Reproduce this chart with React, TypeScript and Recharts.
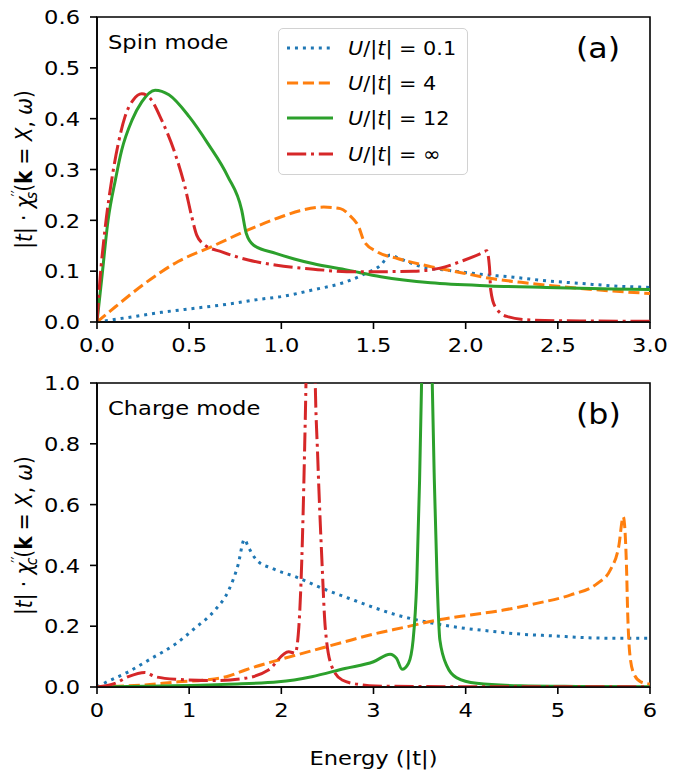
import { LineChart, Line, XAxis, YAxis, Legend, ReferenceArea } from 'recharts';

const FONT = '"DejaVu Sans", "Noto Sans", sans-serif';
// text in this figure is set a little wide
const SX = 1.13;

// [energy (|t|), |t|·χ''] samples, spin channel
const spinU01 = [
  [0, 0], [0.17, 0.009], [0.35, 0.019], [0.53, 0.027], [0.71, 0.035], [0.89, 0.045],
  [1.0, 0.05], [1.17, 0.063], [1.35, 0.079], [1.46, 0.096], [1.54, 0.112], [1.59, 0.132],
  [1.64, 0.125], [1.77, 0.108], [1.9, 0.102], [2.08, 0.094], [2.26, 0.088], [2.44, 0.081],
  [2.62, 0.076], [2.8, 0.071], [3.0, 0.068],
];
const spinU4 = [
  [0, 0], [0.1, 0.03], [0.26, 0.076], [0.44, 0.119], [0.62, 0.148], [0.8, 0.178],
  [1.0, 0.207], [1.1, 0.219], [1.23, 0.226], [1.32, 0.223], [1.37, 0.21], [1.42, 0.187],
  [1.45, 0.158], [1.52, 0.138], [1.63, 0.125], [1.81, 0.109], [1.99, 0.096], [2.13, 0.086],
  [2.35, 0.076], [2.62, 0.066], [3.0, 0.056],
];
const spinU12 = [
  [0, 0], [0.025, 0.083], [0.06, 0.2], [0.1, 0.28], [0.134, 0.338], [0.19, 0.397],
  [0.243, 0.433], [0.315, 0.456], [0.39, 0.447], [0.5, 0.404], [0.6, 0.352], [0.71, 0.286],
  [0.785, 0.22], [0.81, 0.174], [0.85, 0.151], [0.97, 0.135], [1.07, 0.124], [1.17, 0.115],
  [1.36, 0.102], [1.54, 0.089], [1.81, 0.077], [2.13, 0.071], [2.44, 0.068], [2.8, 0.065],
  [3.0, 0.064],
];
const spinUInf = [
  [0, 0], [0.016, 0.083], [0.043, 0.181], [0.08, 0.28], [0.116, 0.352], [0.152, 0.404],
  [0.197, 0.437], [0.243, 0.449], [0.288, 0.44], [0.351, 0.397], [0.423, 0.332],
  [0.477, 0.266], [0.514, 0.207], [0.541, 0.171], [0.586, 0.151], [0.677, 0.138],
  [0.821, 0.122], [0.966, 0.112], [1.074, 0.107], [1.174, 0.104], [1.355, 0.099],
  [1.536, 0.099], [1.716, 0.1], [1.861, 0.106], [1.988, 0.121], [2.078, 0.134],
  [2.114, 0.14], [2.129, 0.109], [2.136, 0.063], [2.16, 0.03], [2.223, 0.011],
  [2.35, 0.004], [2.62, 0.002], [3.0, 0.0015],
];

// charge channel
const chargeU01 = [
  [0, 0], [0.087, 0.014], [0.34, 0.05], [0.59, 0.094], [0.85, 0.141], [1.06, 0.193],
  [1.28, 0.253], [1.43, 0.319], [1.53, 0.401], [1.6, 0.486], [1.64, 0.462], [1.73, 0.418],
  [1.9, 0.39], [2.15, 0.363], [2.44, 0.325], [2.73, 0.292], [2.98, 0.264], [3.25, 0.237],
  [3.51, 0.218], [3.87, 0.198], [4.23, 0.185], [4.59, 0.174], [4.96, 0.168], [5.32, 0.162],
  [5.68, 0.16], [6.0, 0.16],
];
const chargeU4 = [
  [0, 0], [0.52, 0.007], [0.88, 0.017], [1.17, 0.023], [1.43, 0.036], [1.61, 0.056],
  [1.97, 0.089], [2.33, 0.119], [2.69, 0.149], [3.0, 0.174], [3.33, 0.196], [3.69, 0.22],
  [4.05, 0.237], [4.41, 0.253], [4.77, 0.275], [5.14, 0.303], [5.43, 0.341], [5.57, 0.385],
  [5.66, 0.461], [5.71, 0.56], [5.744, 0.407], [5.758, 0.242], [5.78, 0.111], [5.823, 0.045],
  [5.9, 0.017], [6.0, 0.01],
];
const chargeU12 = [
  [0, 0], [0.7, 0.003], [1.43, 0.009], [1.97, 0.017], [2.33, 0.034], [2.69, 0.061],
  [3.0, 0.083], [3.18, 0.108], [3.25, 0.094], [3.31, 0.058], [3.38, 0.078], [3.43, 0.155],
  [3.47, 0.352], [3.5, 0.68], [3.525, 1.05], [3.58, 2.4], [3.634, 1.05], [3.66, 0.68],
  [3.69, 0.352], [3.72, 0.155], [3.8, 0.067], [3.9, 0.031], [4.12, 0.012], [4.59, 0.004],
  [5.2, 0.002], [6.0, 0.001],
];
const chargeUInf = [
  [0, 0], [0.195, 0.012], [0.34, 0.034], [0.52, 0.048], [0.63, 0.034], [0.88, 0.025],
  [1.25, 0.021], [1.61, 0.029], [1.86, 0.056], [2.08, 0.116], [2.15, 0.111], [2.19, 0.198],
  [2.222, 0.418], [2.25, 0.747], [2.27, 1.05], [2.318, 2.5], [2.365, 1.05], [2.396, 0.747],
  [2.44, 0.418], [2.476, 0.198], [2.548, 0.067], [2.66, 0.023], [2.87, 0.007], [3.02, 0.003],
  [4.0, 0.001], [6.0, 0.0005],
];

const uValues = ['0.1', '4', '12', '∞'];
const colors = ['#1f77b4', '#ff7f0e', '#2ca02c', '#d62728'];
// dotted, dashed, solid, dash-dot at 3px line width
const dashes = ['3 4.95', '11.1 4.8', '', '19.2 4.8 3 4.8'];

const spinTicksX = [0, 0.5, 1, 1.5, 2, 2.5, 3];
const spinTicksY = [0, 0.1, 0.2, 0.3, 0.4, 0.5, 0.6];
const chargeTicksX = [0, 1, 2, 3, 4, 5, 6];
const chargeTicksY = [0, 0.2, 0.4, 0.6, 0.8, 1];

const seriesName = (u: string) => `U/|t| = ${u}`;
const toPoints = (rows: number[][]) => rows.map(([e, v]) => ({ e, v }));

function AxisTick(props: any) {
  const { x, y, payload, textAnchor, side, digits } = props;
  return (
    <text
      transform={`translate(${x},${y}) scale(${SX},1)`}
      textAnchor={textAnchor}
      dy={side === 'left' ? '0.36em' : '0.71em'}
      fontSize={20}
      fontFamily={FONT}
      fill="#000"
    >
      {Number(payload.value).toFixed(digits)}
    </text>
  );
}

function YTitle({ sub }: { sub: string }) {
  return (
    <text
      transform={`translate(32,169.5) scale(${SX},1) rotate(-90)`}
      textAnchor="middle"
      fontSize={20}
      fontFamily={FONT}
      fill="#000"
    >
      |<tspan fontStyle="italic">t</tspan>| · <tspan fontStyle="italic">χ</tspan>
      <tspan dy={-8} fontSize={14}>′′</tspan>
      <tspan dx={-9} dy={12} fontSize={14} fontStyle="italic">{sub}</tspan>
      <tspan dy={-4}>(</tspan>
      <tspan fontWeight="bold">k</tspan> = <tspan fontStyle="italic">X</tspan>,{' '}
      <tspan fontStyle="italic">ω</tspan>)
    </text>
  );
}

function XTitle() {
  return (
    <text
      transform={`translate(373.5,399) scale(${SX},1)`}
      textAnchor="middle"
      fontSize={20}
      fontFamily={FONT}
      fill="#000"
    >
      Energy (|t|)
    </text>
  );
}

function LegendBox({ payload }: any) {
  // keep the plotting order, whatever order the legend hands us
  const rows = uValues
    .map((u, k) => ({ k, entry: (payload ?? []).find((p: any) => p.value === seriesName(u)) }))
    .filter((r) => r.entry);
  return (
    <div
      style={{
        width: 190,
        height: 147,
        boxSizing: 'border-box',
        border: '1.5px solid #d2d2d2',
        borderRadius: 5,
        background: 'rgba(255,255,255,0.8)',
        paddingTop: 1,
        fontFamily: FONT,
      }}
    >
      {rows.map(({ k, entry }) => (
        <div key={k} style={{ height: 35.3, display: 'flex', alignItems: 'center' }}>
          <svg width={46} height={8} style={{ marginLeft: 8, marginRight: 15, flex: 'none' }}>
            <line x1={0} y1={4} x2={46} y2={4} stroke={entry.color ?? colors[k]} strokeWidth={3} strokeDasharray={dashes[k]} />
          </svg>
          <span
            style={{
              fontSize: 20,
              color: '#000',
              whiteSpace: 'nowrap',
              display: 'inline-block',
              transform: 'scaleX(1.04)',
              transformOrigin: 'left center',
            }}
          >
            <i>U</i>/|<i>t</i>| = {uValues[k]}
          </span>
        </div>
      ))}
    </div>
  );
}

interface PanelProps {
  series: number[][][];
  xTicks: number[];
  yTicks: number[];
  xDigits: number;
  sub: string;
  height: number;
  xAxisHeight: number;
  legend?: boolean;
  xTitle?: boolean;
}

function Panel({ series, xTicks, yTicks, xDigits, sub, height, xAxisHeight, legend, xTitle }: PanelProps) {
  const xMax = xTicks[xTicks.length - 1];
  const yMax = yTicks[yTicks.length - 1];
  return (
    <LineChart width={681} height={height} margin={{ top: 17, right: 31, bottom: 0, left: 0 }}>
      <XAxis
        type="number"
        dataKey="e"
        domain={[0, xMax]}
        ticks={xTicks}
        interval={0}
        allowDataOverflow
        height={xAxisHeight}
        tickSize={7}
        tickMargin={9}
        axisLine={{ stroke: '#000', strokeWidth: 1.6 }}
        tickLine={{ stroke: '#000', strokeWidth: 1.6 }}
        tick={(p: any) => <AxisTick {...p} side="bottom" digits={xDigits} />}
        label={xTitle ? <XTitle /> : undefined}
      />
      <YAxis
        type="number"
        domain={[0, yMax]}
        ticks={yTicks}
        interval={0}
        allowDataOverflow
        width={97}
        tickSize={7}
        tickMargin={10}
        axisLine={{ stroke: '#000', strokeWidth: 1.6 }}
        tickLine={{ stroke: '#000', strokeWidth: 1.6 }}
        tick={(p: any) => <AxisTick {...p} side="left" digits={1} />}
        label={<YTitle sub={sub} />}
      />
      <ReferenceArea x1={0} x2={xMax} y1={0} y2={yMax} fill="none" fillOpacity={0} stroke="#000" strokeWidth={1.6} ifOverflow="visible" />
      {series.map((rows, i) => (
        <Line
          key={uValues[i]}
          data={toPoints(rows)}
          dataKey="v"
          name={seriesName(uValues[i])}
          type="monotone"
          stroke={colors[i]}
          strokeWidth={3}
          strokeDasharray={dashes[i] || undefined}
          dot={false}
          activeDot={false}
          isAnimationActive={false}
        />
      ))}
      {legend && (
        <Legend
          layout="vertical"
          align="center"
          verticalAlign="middle"
          wrapperStyle={{ left: 278, top: 28, width: 190, height: 147 }}
          content={(p: any) => <LegendBox payload={p.payload} />}
        />
      )}
    </LineChart>
  );
}

export default function App() {
  return (
    <div style={{ position: 'absolute', left: 0, top: 0, width: 681, height: 770, background: '#fff', fontFamily: FONT }}>
      <div style={{ position: 'absolute', left: 0, top: 0 }}>
        <Panel
          series={[spinU01, spinU4, spinU12, spinUInf]}
          xTicks={spinTicksX}
          yTicks={spinTicksY}
          xDigits={1}
          sub="s"
          height={366}
          xAxisHeight={44}
          legend
        />
      </div>
      <div style={{ position: 'absolute', left: 0, top: 366 }}>
        <Panel
          series={[chargeU01, chargeU4, chargeU12, chargeUInf]}
          xTicks={chargeTicksX}
          yTicks={chargeTicksY}
          xDigits={0}
          sub="c"
          height={404}
          xAxisHeight={83}
          xTitle
        />
      </div>
      <svg width={681} height={770} style={{ position: 'absolute', left: 0, top: 0, pointerEvents: 'none' }}>
        <g fontFamily={FONT} fill="#000">
          <text transform={`translate(108,49) scale(${SX},1)`} fontSize={20}>Spin mode</text>
          <text transform={`translate(576,58) scale(${SX},1)`} fontSize={28}>(a)</text>
          <text transform={`translate(108,415) scale(${SX},1)`} fontSize={20}>Charge mode</text>
          <text transform={`translate(576,424) scale(${SX},1)`} fontSize={28}>(b)</text>
        </g>
      </svg>
    </div>
  );
}
